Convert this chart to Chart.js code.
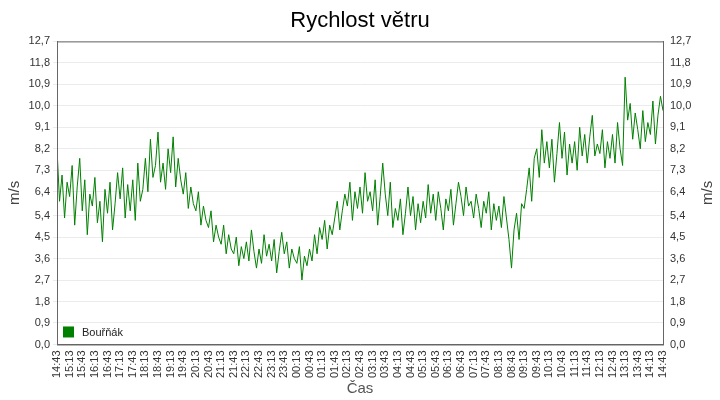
<!DOCTYPE html>
<html><head><meta charset="utf-8">
<script src="https://cdn.jsdelivr.net/npm/chart.js@4/dist/chart.umd.min.js"></script>
<style>html,body{margin:0;background:#fff}#w{width:720px;height:400px}</style>
</head><body><div id="w"><canvas id="c"></canvas></div>
<script>
const startTime = [14, 43];
const stepMinutes = 6;
const seriesName = "Bouřňák";
const windSpeed = [
8.2,6.0,7.1,5.3,6.8, 6.2,7.5,5.0,6.6,7.8, 5.6,6.9,4.6,6.3,5.8, 7.0,5.1,6.0,4.3,6.5,
5.5,6.8,4.8,5.9,7.2, 6.1,7.4,5.3,6.7,5.6, 6.9,5.2,7.6,6.0,6.5, 7.8,6.4,8.6,7.0,7.5,
8.9,6.8,7.6,6.5,8.2, 7.2,8.7,6.6,7.8,6.9, 6.3,7.2,5.7,6.6,5.9, 5.6,6.4,5.0,5.8,5.2,
4.9,5.6,4.3,5.0,4.5, 4.2,5.0,3.8,4.6,4.0, 3.8,4.5,3.3,4.1,3.6, 4.3,3.5,4.8,3.9,3.2,
4.0,3.4,4.6,3.7,4.2, 3.5,4.4,3.0,3.9,4.7, 3.8,4.3,3.2,4.0,3.6, 3.4,4.1,2.7,3.7,3.3,
4.0,3.5,4.6,3.8,4.9, 4.4,5.2,4.0,5.0,4.6, 5.3,6.0,4.8,5.6,6.3, 5.8,6.8,5.2,6.4,5.7,
6.6,5.5,7.2,6.0,6.4, 5.6,6.9,5.0,6.2,7.6, 6.3,5.4,6.8,4.9,5.7, 5.2,6.1,4.6,5.5,6.6,
5.4,6.2,4.8,5.9,5.1, 6.0,5.3,6.7,5.5,6.3, 5.2,6.4,5.7,4.8,6.1, 5.6,6.5,5.0,5.9,6.8,
6.2,5.4,6.6,5.8,6.0, 5.3,6.3,5.7,4.9,6.0, 5.5,6.4,4.8,5.9,5.2, 5.8,4.9,6.2,5.3,4.4,
3.2,4.8,5.5,4.4,5.9, 5.7,6.5,7.4,6.0,7.8, 8.2,7.0,9.0,7.6,8.5, 7.4,8.6,6.8,8.0,9.3,
7.8,8.9,7.1,8.4,7.6, 8.5,7.3,9.1,7.9,8.8, 7.6,8.7,9.6,7.9,8.4, 8.0,9.0,7.4,8.5,7.8,
8.8,7.6,9.3,8.2,7.5, 11.2,9.4,10.1,8.6,9.7, 9.0,8.2,9.8,8.5,9.3, 8.8,10.2,8.4,9.6,10.4,
9.8];
const yTicks = [0,0.9,1.8,2.7,3.6,4.5,5.4,6.4,7.3,8.2,9.1,10.0,10.9,11.8,12.7];
const totalMinutes = (windSpeed.length-1)*stepMinutes;
const pts = windSpeed.map((v,i)=>({x:i*stepMinutes,y:v}));
const F='Liberation Sans';
function timeLabel(m){const t=(startTime[0]*60+startTime[1]+m)%1440;const h=Math.floor(t/60),mm=t%60;return String(h).padStart(2,'0')+':'+String(mm).padStart(2,'0');}
const yAxis = (pos)=>({position:pos,min:0,max:12.7,
  afterBuildTicks:a=>{a.ticks=yTicks.map(v=>({value:v}));},
  afterFit:a=>{a.width=pos==='left'?53:53;},
  ticks:{color:'#333',font:{size:11,family:F},padding:3,callback:v=>v.toFixed(1).replace('.',',')},
  grid:{display:pos==='left',color:'#ebebeb',drawTicks:true,tickLength:4},
  border:{color:'#666'},
  title:{display:pos==='left',text:'m/s',color:'#444',font:{size:15,family:F},padding:2}});
const extra={id:'ex',afterDraw(c){const x=c.ctx,a=c.chartArea;x.save();
 x.strokeStyle='#666';x.lineWidth=1;x.strokeRect(a.left+0.5,a.top+0.5,a.right-a.left,a.bottom-a.top);
 x.fillStyle='#008000';x.fillRect(a.left+6,a.bottom-18,11,11);x.fillStyle='#222';x.font='11px '+F;x.textBaseline='middle';x.fillText(seriesName,a.left+25,a.bottom-12);
 x.translate(708,(a.top+a.bottom)/2);x.rotate(-Math.PI/2);x.textAlign='center';x.fillStyle='#444';x.font='15px '+F;x.fillText('m/s',0,0);
 x.restore();}};
new Chart(document.getElementById('c'),{type:'line',
 data:{datasets:[{label:seriesName,data:pts,borderColor:'#008000',borderWidth:1,pointRadius:0,tension:0}]},
 plugins:[extra],
 options:{responsive:true,maintainAspectRatio:false,animation:false,
  layout:{padding:{left:4,right:4,top:0,bottom:2}},
  plugins:{legend:{display:false},tooltip:{enabled:false},
   title:{display:true,text:'Rychlost větru',color:'#000',font:{size:22,family:F,weight:'normal'},padding:{top:8,bottom:7}}},
  scales:{x:{type:'linear',min:0,max:totalMinutes,
    afterBuildTicks:a=>{const t=[];for(let m=0;m<=totalMinutes;m+=30)t.push({value:m});a.ticks=t;},
    ticks:{autoSkip:false,maxRotation:90,minRotation:90,color:'#333',padding:2,font:{size:11,family:F},callback:v=>timeLabel(v)},
    grid:{display:false,drawTicks:true,tickLength:4},border:{color:'#666'},
    title:{display:true,text:'Čas',color:'#555',font:{size:15,family:F},padding:{top:0,bottom:0}}},
   y:yAxis('left'),y2:yAxis('right')}}});
</script></body></html>
